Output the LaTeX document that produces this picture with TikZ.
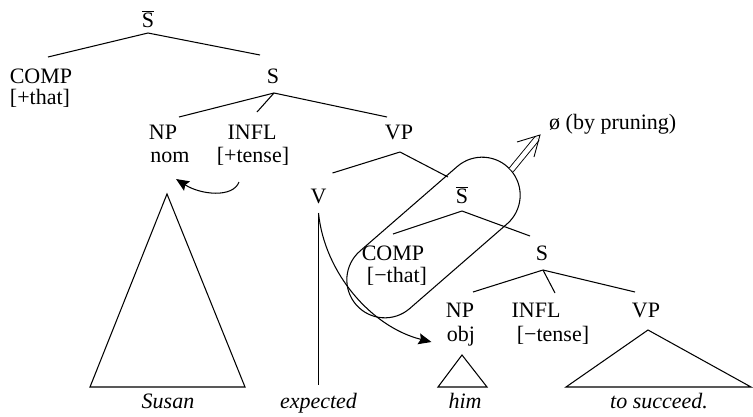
\documentclass[tikz,border=0pt]{standalone}
\usepackage{fontspec}
\setmainfont{Liberation Serif}
\usetikzlibrary{arrows.meta,shapes.misc}
\begin{document}
\begin{tikzpicture}[x=1pt,y=-1pt,
  lab/.style={inner sep=0pt, anchor=base, font=\fontsize{22}{25}\selectfont},
  word/.style={inner sep=0pt, anchor=base, font=\fontsize{22}{25}\selectfont\itshape},
  br/.style={line width=1.05pt},
  mv/.style={line width=1.05pt, -{Stealth[length=13pt,width=11pt,inset=2pt]}},
  prunearrow/.style={line width=0.9pt, double, double distance=4.5pt},
]
\useasboundingbox (0,0) rectangle (753,416);
% labels
\node[lab] (sbar) at (148,27) {$\overline{\mbox{S}}$};
\node[lab] (comp) at (41,83) {COMP};
\node[lab] (plusthat) at (40,104) {[+that]};
\node[lab] (s) at (273,83) {S};
\node[lab] (np) at (163,139) {NP};
\node[lab] (nom) at (170,162) {nom};
\node[lab] (infl) at (252,139) {INFL};
\node[lab] (plustense) at (253,162) {[+tense]};
\node[lab] (vp) at (399,139) {VP};
\node[lab] (v) at (318.5,203) {V};
\node[lab] (sbar2) at (462,203) {$\overline{\mbox{S}}$};
\node[lab] (comp2) at (393,260) {COMP};
\node[lab] (minusthat) at (397,282) {[−that]};
\node[lab] (s2) at (542,260) {S};
\node[lab] (np2) at (460,317) {NP};
\node[lab] (obj) at (461,341) {obj};
\node[lab] (infl2) at (536,317) {INFL};
\node[lab] (minustense) at (553,341) {[−tense]};
\node[lab] (vp2) at (646,317) {VP};
\node[word] (susan) at (168,408) {Susan};
\node[word] (expected) at (318.5,408) {expected};
\node[word] (him) at (465,408) {him};
\node[word] (succeed) at (659,408) {to succeed.};
\node[lab, anchor=base west] (prn) at (549,129) {ø (by pruning)};
% tree branches
\draw[br] ([shift={(0,6)}]sbar.base) -- ([shift={(7,-26)}]comp.base);
\draw[br] ([shift={(0,6)}]sbar.base) -- ([shift={(-13,-28)}]s.base);
\draw[br] ([shift={(1,10)}]s.base) -- ([shift={(16,-22)}]np.base);
\draw[br] ([shift={(1,10)}]s.base) -- ([shift={(5,-27)}]infl.base);
\draw[br] ([shift={(1,10)}]s.base) -- ([shift={(-12,-22)}]vp.base);
\draw[br] ([shift={(1,13)}]vp.base) -- ([shift={(14,-30)}]v.base);
\draw[br] ([shift={(1,13)}]vp.base) -- ([shift={(-14,-26)}]sbar2.base);
\draw[br] ([shift={(0,8)}]sbar2.base) -- ([shift={(0,-26)}]comp2.base);
\draw[br] ([shift={(0,8)}]sbar2.base) -- ([shift={(-12,-24)}]s2.base);
\draw[br] ([shift={(1,10)}]s2.base) -- ([shift={(13,-25)}]np2.base);
\draw[br] ([shift={(1,10)}]s2.base) -- ([shift={(19,-24)}]infl2.base);
\draw[br] ([shift={(1,10)}]s2.base) -- ([shift={(-11,-25)}]vp2.base);
\draw[br] ([shift={(0,10)}]v.base) -- ([shift={(0,-23)}]expected.base);
% triangles
\draw[br] ([shift={(-3,32)}]nom.base) -- ([shift={(-78,-21)}]susan.base) -- ([shift={(77,-21)}]susan.base) -- cycle;
\draw[br] ([shift={(1,14)}]obj.base) -- ([shift={(-27,-21)}]him.base) -- ([shift={(22,-21)}]him.base) -- cycle;
\draw[br] ([shift={(2,13)}]vp2.base) -- ([shift={(-93,-21)}]succeed.base) -- ([shift={(92,-21)}]succeed.base) -- cycle;
% movement arrows
\draw[mv] ([shift={(-14,20)}]plustense.base) .. controls +(-6,16) and +(25,16) .. ([shift={(6,17)}]nom.base);
\draw[mv] ([shift={(0,10)}]v.base) .. controls +(6,60) and +(-60,-15) .. ([shift={(-29.5,1)}]obj.base);
% pruning loop
\node[draw, br, rounded rectangle, rotate=41, minimum width=205pt, minimum height=76pt, inner sep=0pt] (prune) at (433.5,237.5) {};
\draw[prunearrow] (prune.east) -- ([shift={(-12,9.5)}]prn.base west);
\draw[line width=0.9pt, line join=miter] ([shift={(-32,13)}]prn.base west) -- ([shift={(-9,6)}]prn.base west) -- ([shift={(-15,28)}]prn.base west);
\end{tikzpicture}
\end{document}
